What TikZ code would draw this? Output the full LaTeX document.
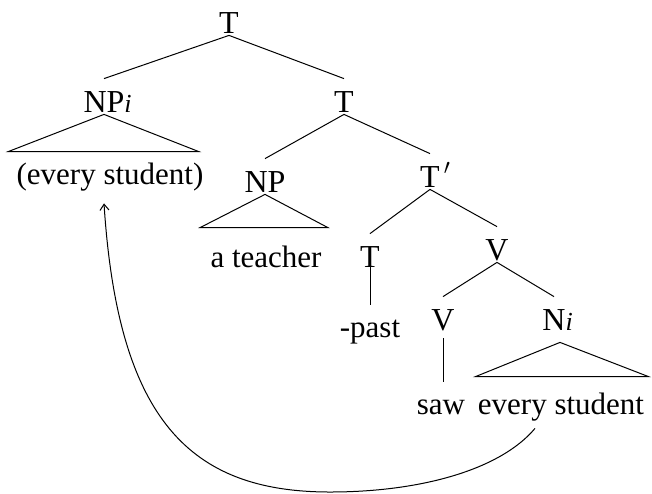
\documentclass[tikz,border=0pt]{standalone}
\usepackage{fontspec}
\setmainfont{Liberation Serif}
\usetikzlibrary{arrows.meta}

\newcommand{\coidx}{\rlap{\fontsize{13}{13}\selectfont\itshape i}}

\begin{document}
\begin{tikzpicture}[x=0.5pt, y=-0.5pt,
  cat/.style={inner sep=0pt, anchor=base, text height=16.5pt, text depth=1pt, font=\fontsize{16}{18}\selectfont},
  word/.style={inner sep=0pt, anchor=base, text height=16pt, text depth=0pt, font=\fontsize{15.5}{18}\selectfont},
  br/.style={line width=0.5pt},
  roof/.style={br, line join=miter},
  mv/.style={line width=0.5pt, -{Straight Barb[length=3pt, width=4.5pt]}}
]
\useasboundingbox (0,0) rectangle (652,493);

% Category labels
\node[cat] (Ttop) at (229,33)  {T};
\node[cat] (NPi)  at (104,112) {NP\coidx};
\node[cat] (Tr)   at (344,112) {T};
\node[cat] (NP)   at (265,192) {NP};
\node[cat] (Tbar) at (430,187) {T\rlap{\kern2pt$'$}};
\node[cat] (Tl)   at (370,267) {T};
\node[cat] (Vr)   at (497,260) {V};
\node[cat] (Vl)   at (443,330) {V};
\node[cat] (Ni)   at (554,330) {N\coidx};

% Terminal strings
\node[word] (evst)   at (110,184) {(every student)};
\node[word] (teach)  at (266,267) {a teacher};
\node[word] (past)   at (370,337) {-past};
\node[word] (saw)    at (441,414) {saw};
\node[word] (evsttr) at (561,414) {every student};

% Branches
\draw[br] (Ttop.south) -- (NPi.north);
\draw[br] (Ttop.south) -- (Tr.north);
\draw[br] (Tr.south) -- (NP.north);
\draw[br] (Tr.south) -- (Tbar.north);
\draw[br] (Tbar.south) -- (Tl.north);
\draw[br] (Tbar.south) -- (Vr.north);
\draw[br] (Vr.south) -- (Vl.north);
\draw[br] (Vr.south) -- (Ni.north);
\draw[br] ([yshift=3pt]Tl.south) -- (Tl.south |- past.north);
\draw[br] ([yshift=-3pt]Vl.south) -- (Vl.south |- saw.north);

% Roofs
\draw[roof] (NPi.south) -- ([xshift=-4pt]evst.north west) -- ([xshift=-2.5pt]evst.north east) -- cycle;
\draw[roof] (NP.south) -- ([xshift=-5pt,yshift=3.5pt]teach.north west) -- ([xshift=3pt,yshift=3.5pt]teach.north east) -- cycle;
\draw[roof] ([xshift=3pt,yshift=-5pt]Ni.south) -- ([xshift=-1pt,yshift=2.5pt]evsttr.north west) -- ([xshift=2pt,yshift=2.5pt]evsttr.north east) -- cycle;

% Movement
\draw[mv] ([xshift=-13pt,yshift=-7pt]evsttr.south) .. controls (500,470) and (420,492) .. (330,492)
  .. controls (190,492) and (118,420) .. ([xshift=-3pt,yshift=-9.5pt]evst.south);

\end{tikzpicture}
\end{document}
